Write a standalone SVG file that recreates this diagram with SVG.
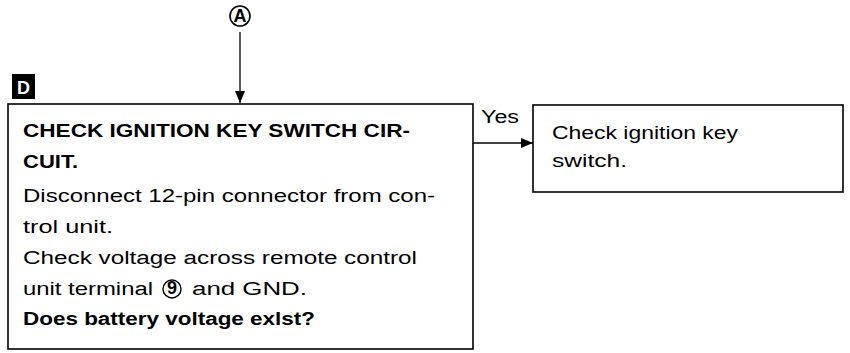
<svg xmlns="http://www.w3.org/2000/svg" width="850" height="353" viewBox="0 0 850 353">
<defs>
<style>
.box{fill:#fff;stroke:#000;stroke-width:1.6}
.ln{stroke:#000;stroke-width:1.3;fill:none}
.t{font-family:"Liberation Sans",Arial,sans-serif;font-size:18px;fill:#000}
.b{font-weight:bold}
</style>
<marker id="ah" markerWidth="12" markerHeight="10" refX="12" refY="5" orient="auto" markerUnits="userSpaceOnUse">
<path d="M0,0 L12,5 L0,10 Z" fill="#000"/>
</marker>
</defs>
<rect width="850" height="353" fill="#fff"/>
<g id="connectors">
<line class="ln" x1="240" y1="32" x2="240" y2="103" marker-end="url(#ah)"/>
<line class="ln" x1="473" y1="143" x2="533" y2="143" marker-end="url(#ah)"/>
<text class="t" x="481" y="123" font-size="17" textLength="38" lengthAdjust="spacingAndGlyphs">Yes</text>
</g>
<g id="nodeA">
<circle cx="240" cy="16" r="10" fill="none" stroke="#000" stroke-width="1.6"/>
<text class="t b" x="240" y="21.5" font-size="14" text-anchor="middle">A</text>
</g>
<g id="labelD">
<rect x="12" y="74" width="23" height="25" fill="#000"/>
<text class="t b" x="23.5" y="94" font-size="22" text-anchor="middle" style="fill:#fff">D</text>
</g>
<g id="nodeCheck">
<rect class="box" x="8" y="104" width="465" height="245"/>
<text class="t b" x="23" y="137" textLength="387" lengthAdjust="spacingAndGlyphs">CHECK IGNITION KEY SWITCH CIR-</text>
<text class="t b" x="23" y="168" textLength="55" lengthAdjust="spacingAndGlyphs">CUIT.</text>
<text class="t" x="23" y="202" textLength="412" lengthAdjust="spacingAndGlyphs">Disconnect 12-pin connector from con-</text>
<text class="t" x="23" y="233" textLength="90" lengthAdjust="spacingAndGlyphs">trol unit.</text>
<text class="t" x="23" y="264" textLength="394" lengthAdjust="spacingAndGlyphs">Check voltage across remote control</text>
<text class="t" x="23" y="295" textLength="130" lengthAdjust="spacingAndGlyphs">unit terminal</text>
<circle cx="172" cy="289" r="9" fill="none" stroke="#000" stroke-width="1.4"/>
<text class="t b" x="172" y="294" font-size="13" text-anchor="middle">9</text>
<text class="t" x="192" y="295" textLength="115" lengthAdjust="spacingAndGlyphs">and GND.</text>
<text class="t b" x="23" y="325" textLength="292" lengthAdjust="spacingAndGlyphs">Does battery voltage exlst?</text>
</g>
<g id="nodeYes">
<rect class="box" x="533" y="105" width="310" height="87"/>
<text class="t" x="552" y="139" textLength="186" lengthAdjust="spacingAndGlyphs">Check ignition key</text>
<text class="t" x="552" y="167" textLength="75" lengthAdjust="spacingAndGlyphs">switch.</text>
</g>
</svg>
